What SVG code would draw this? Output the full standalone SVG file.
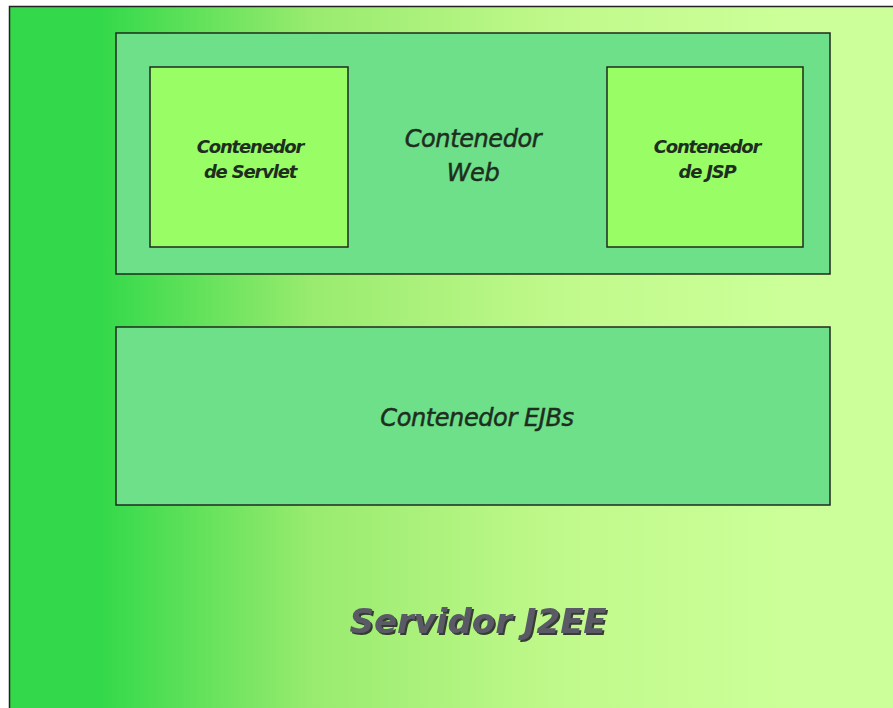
<svg xmlns="http://www.w3.org/2000/svg" width="893" height="708" viewBox="0 0 893 708">
  <style>
    .box { stroke: #1f2a1f; stroke-width: 1.5; }
    .cont { fill: #6ee08a; }
    .inner { fill: #99fd66; }
    .lbl { font-family: "DejaVu Sans", Verdana, sans-serif; font-style: italic; fill: #1e2e1e; text-anchor: middle; }
    .small { font-size: 18px; font-weight: bold; letter-spacing: -1.2px; }
    .mid { font-size: 24px; letter-spacing: -0.4px; stroke: #1e2e1e; stroke-width: 0.5; }
    .title { font-family: "DejaVu Sans", Verdana, sans-serif; font-style: italic; font-weight: bold; font-size: 34px; fill: #5a5a66; text-anchor: middle; }
  </style>
  <defs>
    <linearGradient id="bg" gradientUnits="userSpaceOnUse" x1="100" y1="0" x2="800" y2="0">
      <stop offset="0" stop-color="#33d94a"/>
      <stop offset="0.3" stop-color="#98eb6e"/>
      <stop offset="0.65" stop-color="#c0f98b"/>
      <stop offset="1" stop-color="#ccff99"/>
    </linearGradient>
    <filter id="sh" x="-10%" y="-30%" width="120%" height="160%">
      <feDropShadow dx="2" dy="2" stdDeviation="0.5" flood-color="#2a2a2a" flood-opacity="0.9"/>
    </filter>
  </defs>
  <rect width="893" height="708" fill="#ffffff"/>
  <g id="servidor">
    <rect x="9.5" y="6.5" width="900" height="720" fill="url(#bg)" stroke="#222" stroke-width="1.5"/>
    <text class="title" x="478" y="633" filter="url(#sh)">Servidor J2EE</text>
  </g>
  <g id="web">
    <rect class="box cont" x="116" y="33" width="714" height="241"/>
    <text class="lbl mid" x="473" y="147">Contenedor</text>
    <text class="lbl mid" x="473" y="181">Web</text>
  </g>
  <g id="servlet">
    <rect class="box inner" x="150" y="67" width="198" height="180"/>
    <text class="lbl small" x="250" y="153">Contenedor</text>
    <text class="lbl small" x="250" y="178">de Servlet</text>
  </g>
  <g id="jsp">
    <rect class="box inner" x="607" y="67" width="196" height="180"/>
    <text class="lbl small" x="707" y="153">Contenedor</text>
    <text class="lbl small" x="707" y="178">de JSP</text>
  </g>
  <g id="ejb">
    <rect class="box cont" x="116" y="327" width="714" height="178"/>
    <text class="lbl mid" x="477" y="426">Contenedor EJBs</text>
  </g>
  <g id="connectors"/>
</svg>
